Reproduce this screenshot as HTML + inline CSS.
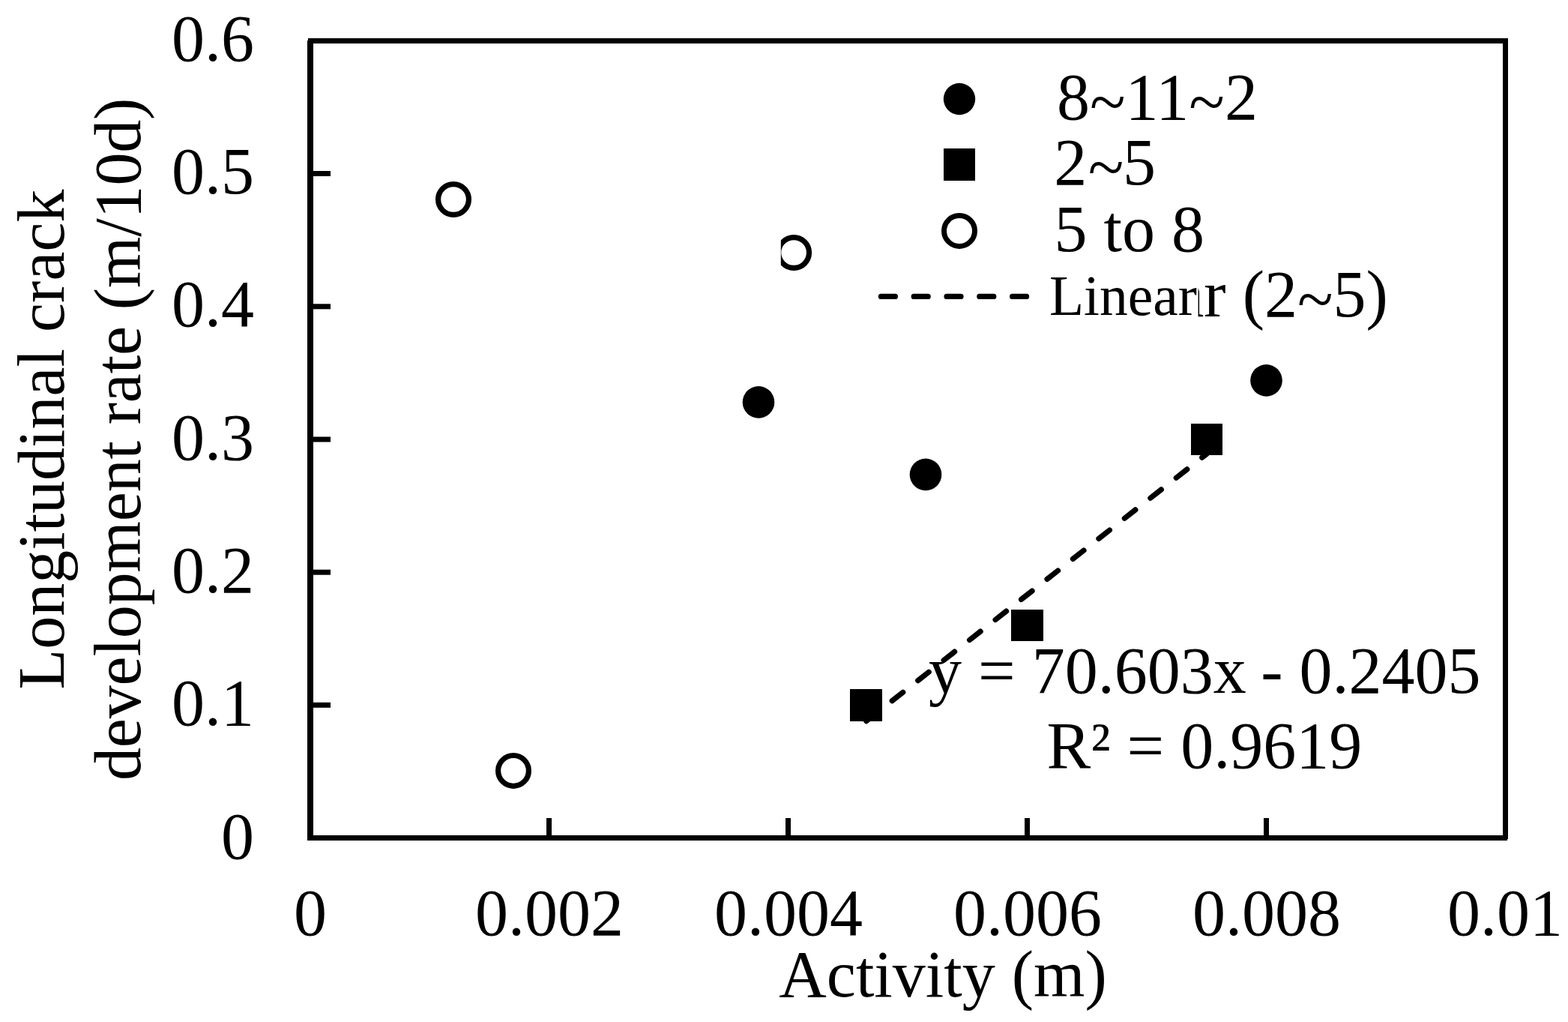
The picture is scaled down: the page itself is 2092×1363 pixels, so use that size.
<!DOCTYPE html>
<html lang="en">
<head>
<meta charset="utf-8">
<title>Longitudinal crack development rate vs Activity</title>
<style>
html,body{margin:0;padding:0;background:#fff;}
body{width:2092px;height:1363px;overflow:hidden;}
svg{display:block;}
text{font-family:"Liberation Serif","DejaVu Serif",serif;fill:#000;}
.t{font-size:88px;}
.s{font-size:75.5px;}
</style>
</head>
<body>
<svg width="2092" height="1363" viewBox="0 0 2092 1363">
<defs>
<clipPath id="cutCircle"><rect x="1041.8" y="300" width="80" height="80"/></clipPath>
<clipPath id="cutLinear"><rect x="1598.6" y="340" width="300" height="120"/></clipPath>
</defs>
<rect x="0" y="0" width="2092" height="1363" fill="#fff"/>

<!-- plot frame -->
<g id="frame" fill="#000">
<rect x="411" y="51" width="1601" height="7"/>
<rect x="410" y="54" width="8" height="1067"/>
<rect x="410" y="1114" width="1601" height="7"/>
<rect x="2005" y="51" width="7" height="1068"/>
</g>

<!-- ticks -->
<g id="ticks" fill="#000">
<rect x="414" y="228" width="27" height="7"/>
<rect x="414" y="405.3" width="27" height="7"/>
<rect x="414" y="582.5" width="27" height="7"/>
<rect x="414" y="759.7" width="27" height="7"/>
<rect x="414" y="936.8" width="27" height="7"/>
<rect x="729" y="1091" width="7" height="26"/>
<rect x="1048" y="1091" width="7" height="26"/>
<rect x="1367" y="1091" width="7" height="26"/>
<rect x="1686" y="1091" width="7" height="26"/>
</g>

<!-- y tick labels -->
<g id="ylabels" class="t" text-anchor="end">
<text x="339" y="81">0.6</text>
<text x="339" y="258.2">0.5</text>
<text x="339" y="435.3">0.4</text>
<text x="339" y="612.5">0.3</text>
<text x="339" y="789.7">0.2</text>
<text x="339" y="966.8">0.1</text>
<text x="339" y="1144.5">0</text>
</g>

<!-- x tick labels -->
<g id="xlabels" class="t" text-anchor="middle">
<text x="414" y="1246.5">0</text>
<text x="733" y="1246.5">0.002</text>
<text x="1052" y="1246.5">0.004</text>
<text x="1371" y="1246.5">0.006</text>
<text x="1690" y="1246.5">0.008</text>
<text x="2008" y="1246.5">0.01</text>
</g>

<!-- axis titles -->
<text id="xtitle" class="t" x="1258" y="1328.5" text-anchor="middle">Activity (m)</text>
<g id="ytitle" class="t" text-anchor="middle">
<text id="yt1" transform="translate(85 586) rotate(-90)">Longitudinal crack</text>
<text id="yt2" transform="translate(187 585.8) rotate(-90)" textLength="910.4" lengthAdjust="spacing">development rate (m/10d)</text>
</g>

<!-- trend line -->
<path id="trend" d="M1155.8 961.65L1610 605.3" stroke="#000" stroke-width="7.2" stroke-dasharray="18.4 25.4" stroke-linecap="round" fill="none"/>

<!-- data points -->
<g id="open" fill="#fff" stroke="#000" stroke-width="7.2">
<circle cx="605" cy="266" r="20.4"/>
<circle cx="1059.1" cy="337" r="20.4" clip-path="url(#cutCircle)"/>
<circle cx="685" cy="1027.9" r="20.4"/>
</g>
<g id="filled" fill="#000">
<circle cx="1012" cy="536.4" r="21.3"/>
<circle cx="1235" cy="632.9" r="21.3"/>
<circle cx="1689.5" cy="507.4" r="21.3"/>
</g>
<g id="squares" fill="#000">
<rect x="1134" y="919" width="43" height="43"/>
<rect x="1349" y="813" width="43" height="42"/>
<rect x="1589" y="565" width="42" height="42"/>
</g>

<!-- legend -->
<g id="legend">
<circle cx="1280" cy="132" r="21.2" fill="#000"/>
<rect x="1259" y="198" width="42" height="43" fill="#000"/>
<circle cx="1280" cy="307.9" r="20.5" fill="#fff" stroke="#000" stroke-width="7"/>
<path d="M1175.4 395.4H1369.6" stroke="#000" stroke-width="7.2" stroke-dasharray="19 24.8" stroke-linecap="round" fill="none"/>
<g class="t">
<text x="1410" y="159">8<tspan dy="7">~</tspan><tspan dy="-7">11</tspan><tspan dy="7">~</tspan><tspan dy="-7">2</tspan></text>
<text x="1406.3" y="246.3">2<tspan dy="7" dx="1.5">~</tspan><tspan dy="-7" dx="-1.5">5</tspan></text>
<text x="1406" y="422" clip-path="url(#cutLinear)">Linear (2<tspan dy="7">~</tspan><tspan dy="-7">5)</tspan></text>
<text x="1406.5" y="334.5">5 to 8</text>
</g>
<text class="s" x="1400" y="419.8">Linear</text>
</g>

<!-- equation -->
<g id="eq" class="t">
<text x="1239" y="923.6">y = 70.603x<tspan dx="-2.5"> - 0.2405</tspan></text>
<text x="1396.5" y="1024">R² = 0.9619</text>
</g>
</svg>
</body>
</html>
